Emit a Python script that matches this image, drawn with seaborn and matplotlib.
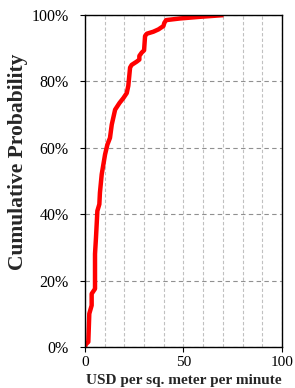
import pandas as pd
import seaborn as sns
import matplotlib.pyplot as plt
from matplotlib.ticker import MultipleLocator, FuncFormatter

# cost per sq. meter per minute (USD) vs cumulative probability (%)
usd = [0.0, 0.5, 1.7, 2.2, 3.4, 3.4, 5.1, 5.1, 5.6, 6.3, 7.3, 7.6, 8.5,
       10.2, 11.4, 12.7, 13.6, 15.3, 17.5, 19.5, 21.2, 22.0, 22.9, 23.7,
       26.3, 27.6, 27.6, 28.8, 30.0, 30.5, 31.4, 34.7, 37.3, 39.8, 40.3,
       41.2, 48.3, 58.5, 70.3]
cum_prob = [0.0, 0.8, 1.5, 10.0, 12.5, 16.0, 17.5, 28.0, 33.0, 41.0, 43.0,
            46.5, 52.0, 58.0, 61.0, 63.0, 67.0, 71.5, 73.5, 75.0, 76.5, 78.7,
            84.2, 85.0, 86.0, 86.6, 87.7, 88.7, 89.4, 93.7, 94.4, 95.0, 95.7,
            96.7, 97.7, 98.5, 99.0, 99.5, 100.0]

df = pd.DataFrame({'usd': usd, 'p': cum_prob})

sns.set_style('white')
plt.rcParams['font.family'] = ['Liberation Serif', 'DejaVu Serif']

fig = plt.figure(figsize=(2.95, 3.88), dpi=100)
ax = fig.add_axes([0.288, 0.106, 0.668, 0.855])

sns.lineplot(data=df, x='usd', y='p', color='#ff0000', linewidth=3.2,
             sort=False, estimator=None, ax=ax, solid_capstyle='butt')

ax.set_xlim(0, 100)
ax.set_ylim(0, 100)
ax.xaxis.set_major_locator(MultipleLocator(50))
ax.xaxis.set_minor_locator(MultipleLocator(10))
ax.yaxis.set_major_locator(MultipleLocator(20))
ax.yaxis.set_major_formatter(FuncFormatter(lambda v, _: '{:.0f}%'.format(v)))

ax.grid(which='minor', axis='x', color='#c0c0c0', linestyle=(0, (3, 2)), linewidth=0.8)
ax.grid(which='major', axis='x', color='#c0c0c0', linestyle=(0, (3, 2)), linewidth=0.8)
ax.grid(which='major', axis='y', color='#909090', linestyle=(0, (4, 3)), linewidth=0.8)
ax.set_axisbelow(True)

for s in ax.spines.values():
    s.set_color('black')
    s.set_linewidth(1.0)

ax.tick_params(axis='both', which='major', direction='out', length=3.6, width=0.8,
               labelsize=11.5, colors='black', bottom=True, left=True)
ax.tick_params(axis='y', pad=8)
ax.tick_params(axis='x', pad=3, labelsize=11)
ax.tick_params(axis='x', which='minor', length=0)

ax.set_xlabel('USD per sq. meter per minute', fontsize=11, fontweight='bold', va='top')
ax.xaxis.set_label_coords(0.50, -0.083)
ax.set_ylabel('Cumulative Probability', fontsize=15.5, fontweight='bold')
ax.yaxis.set_label_coords(-0.29, 0.557)

plt.savefig('out.png', dpi=100)
plt.close()
